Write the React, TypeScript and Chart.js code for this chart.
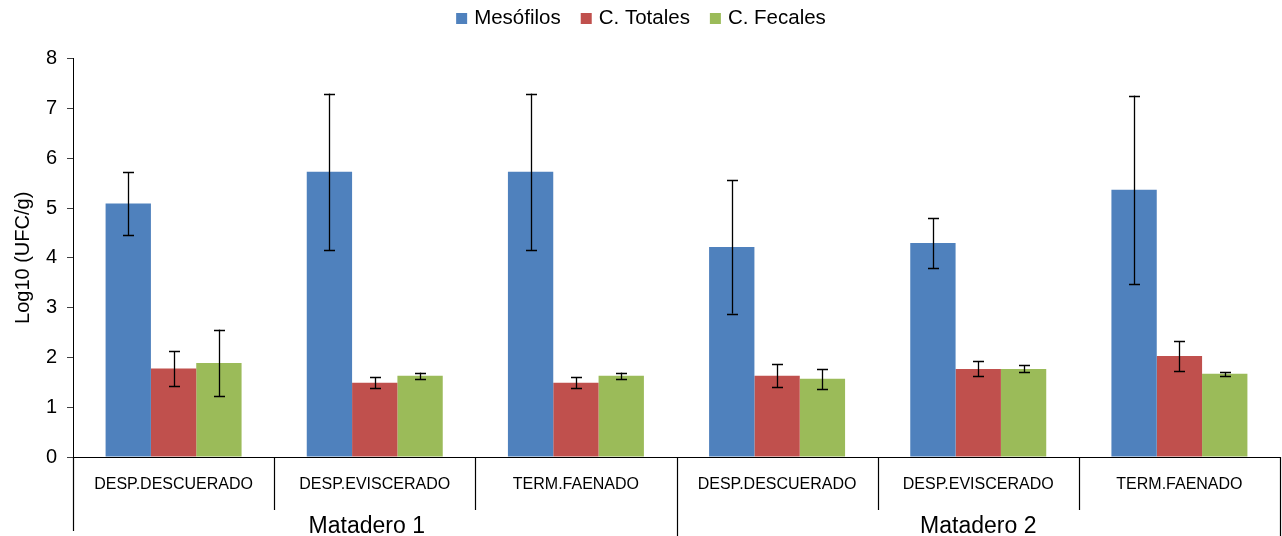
import React, { useEffect, useRef } from "react";
import { Chart, registerables } from "chart.js";

Chart.register(...registerables);

const FONT = '"Liberation Sans", Arial, Helvetica, sans-serif';

const categories = [
  "DESP.DESCUERADO",
  "DESP.EVISCERADO",
  "TERM.FAENADO",
  "DESP.DESCUERADO",
  "DESP.EVISCERADO",
  "TERM.FAENADO",
];
const groupLabels = ["Matadero 1", "Matadero 2"];
const groupFirst = [0, 3];
const groupLast = [2, 5];

const seriesNames = ["Mesófilos", "C. Totales", "C. Fecales"];
const seriesColors = ["#4F81BD", "#C0504D", "#9BBB59"];

const mesofilos = [5.09, 5.73, 5.73, 4.22, 4.3, 5.37];
const mesofilosErr = [0.64, 1.57, 1.57, 1.34, 0.5, 1.89];
const totales = [1.78, 1.49, 1.49, 1.63, 1.77, 2.03];
const totalesErr = [0.35, 0.11, 0.11, 0.23, 0.15, 0.3];
const fecales = [1.89, 1.63, 1.63, 1.57, 1.77, 1.67];
const fecalesErr = [0.67, 0.065, 0.065, 0.2, 0.07, 0.04];

const yMin = 0;
const yMax = 8;
const yStep = 1;
const yTitle = "Log10 (UFC/g)";

const decorPlugin = {
  id: "decor",
  afterDatasetsDraw(chart: any) {
    const ctx = chart.ctx;
    const ys = chart.scales.y;
    ctx.save();
    ctx.strokeStyle = "#000";
    ctx.lineWidth = 1.3;
    chart.data.datasets.forEach((ds: any, di: number) => {
      const meta = chart.getDatasetMeta(di);
      meta.data.forEach((bar: any, i: number) => {
        const v = ds.data[i];
        const e = ds.errors[i];
        const yt = ys.getPixelForValue(v + e);
        const yb = ys.getPixelForValue(v - e);
        const bx = Math.round(bar.x) + 0.5;
        ctx.beginPath();
        ctx.moveTo(bx, yt);
        ctx.lineTo(bx, yb);
        ctx.moveTo(bx - 5.5, Math.round(yt) + 0.5);
        ctx.lineTo(bx + 5.5, Math.round(yt) + 0.5);
        ctx.moveTo(bx - 5.5, Math.round(yb) + 0.5);
        ctx.lineTo(bx + 5.5, Math.round(yb) + 0.5);
        ctx.stroke();
      });
    });
    ctx.restore();
  },
  afterDraw(chart: any) {
    const ctx = chart.ctx;
    const xs = chart.scales.x;
    const area = chart.chartArea;
    ctx.save();

    // category separators
    ctx.strokeStyle = "#000";
    ctx.lineWidth = 1.2;
    const n = chart.data.labels.length;
    for (let b = 0; b <= n; b++) {
      const px = Math.round(xs.getPixelForValue(b - 0.5)) + 0.5;
      const isGroupEdge = b === 0 || b === n || groupFirst.includes(b);
      ctx.beginPath();
      ctx.moveTo(px, area.bottom);
      ctx.lineTo(px, isGroupEdge ? (b === 0 ? 531 : 536) : 510);
      ctx.stroke();
    }

    // category labels
    ctx.fillStyle = "#000";
    ctx.textAlign = "center";
    ctx.textBaseline = "alphabetic";
    ctx.font = `16px ${FONT}`;
    chart.data.labels.forEach((lab: string, i: number) => {
      ctx.fillText(lab, xs.getPixelForValue(i), 489);
    });

    // group labels
    ctx.font = `23px ${FONT}`;
    groupLabels.forEach((g, gi) => {
      const cx =
        (xs.getPixelForValue(groupFirst[gi] - 0.5) +
          xs.getPixelForValue(groupLast[gi] + 0.5)) /
        2;
      ctx.fillText(g, cx - (gi === 0 ? 8 : 0), 532.5);
    });

    // legend
    ctx.font = `20.5px ${FONT}`;
    ctx.textAlign = "left";
    const box = 11;
    const gapBoxText = 7;
    const gapItems = 20;
    const widths = chart.data.datasets.map((d: any) => ctx.measureText(d.label).width);
    const total =
      widths.reduce((a: number, w: number) => a + w + box + gapBoxText, 0) +
      gapItems * (widths.length - 1);
    let lx = chart.width / 2 - total / 2;
    chart.data.datasets.forEach((d: any, i: number) => {
      ctx.fillStyle = d.backgroundColor;
      ctx.fillRect(lx, 13, box, box);
      ctx.fillStyle = "#000";
      ctx.fillText(d.label, lx + box + gapBoxText, 24);
      lx += box + gapBoxText + widths[i] + gapItems;
    });
    ctx.restore();
  },
};

export default function App() {
  const ref = useRef<HTMLCanvasElement | null>(null);

  useEffect(() => {
    document.body.style.margin = "0";
    if (!ref.current) return;
    const valuesList = [mesofilos, totales, fecales];
    const errList = [mesofilosErr, totalesErr, fecalesErr];
    const chart = new Chart(ref.current, {
      type: "bar",
      data: {
        labels: categories,
        datasets: seriesNames.map((name, i) => ({
          label: name,
          data: valuesList[i],
          errors: errList[i],
          backgroundColor: seriesColors[i],
          borderWidth: 0,
          categoryPercentage: 0.676,
          barPercentage: 1.0,
        })) as any,
      },
      options: {
        responsive: false,
        animation: false,
        devicePixelRatio: 1,
        layout: { padding: { top: 58.7, right: 2, left: 0, bottom: 0 } },
        plugins: {
          legend: { display: false },
          tooltip: { enabled: false },
        },
        scales: {
          x: {
            type: "category",
            offset: true,
            ticks: { display: false },
            grid: { display: false },
            border: { display: true, color: "#000", width: 1 },
            afterFit(s: any) {
              s.height = 79;
            },
          },
          y: {
            min: yMin,
            max: yMax,
            ticks: {
              stepSize: yStep,
              color: "#000",
              padding: 10,
              font: { family: FONT, size: 20 },
            },
            grid: {
              drawOnChartArea: false,
              drawTicks: true,
              tickLength: 6,
              color: "#404040",
            },
            border: { display: true, color: "#000", width: 1 },
            title: {
              display: true,
              text: yTitle,
              color: "#000",
              font: { family: FONT, size: 20 },
              padding: { top: 11, bottom: 0 },
            },
            afterFit(s: any) {
              s.width = 73;
            },
          },
        },
      },
      plugins: [decorPlugin],
    });
    return () => chart.destroy();
  }, []);

  return (
    <div style={{ width: 1282, height: 536, background: "#fff" }}>
      <canvas ref={ref} width={1282} height={536} style={{ display: "block" }} />
    </div>
  );
}
